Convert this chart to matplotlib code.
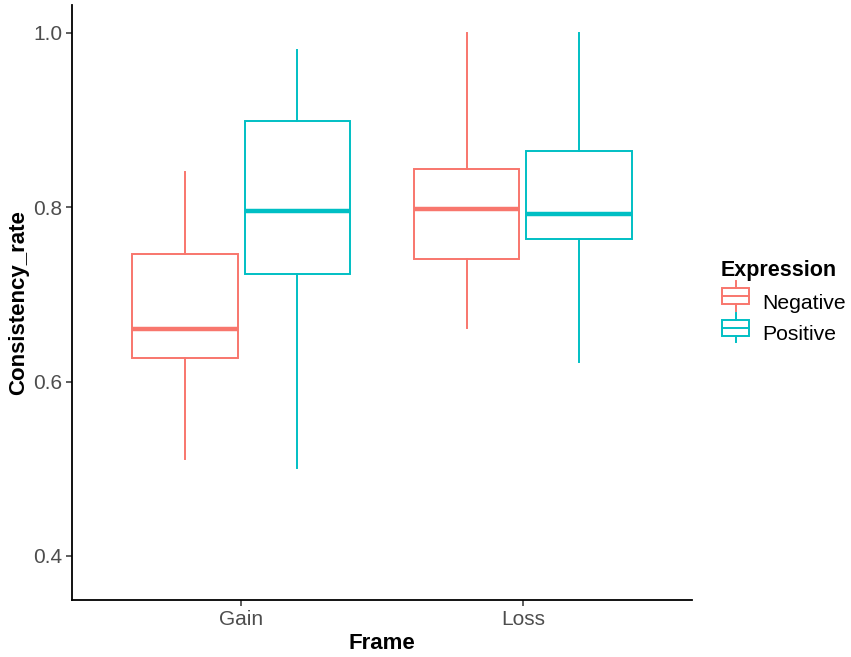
import matplotlib
matplotlib.use("Agg")
import matplotlib.pyplot as plt
from matplotlib.legend_handler import HandlerBase
from matplotlib.patches import Rectangle
from matplotlib.lines import Line2D

plt.rcParams['font.family'] = ['Liberation Sans', 'DejaVu Sans']

# data
frames = ["Gain", "Loss"]
groups = ["Negative", "Positive"]
colors = ["#F8766D", "#00BFC4"]
# per group: one value per frame
whislo = {"Negative": [0.511, 0.661], "Positive": [0.501, 0.622]}
q1 = {"Negative": [0.627, 0.741], "Positive": [0.723, 0.764]}
med = {"Negative": [0.660, 0.798], "Positive": [0.796, 0.792]}
q3 = {"Negative": [0.746, 0.844], "Positive": [0.899, 0.865]}
whishi = {"Negative": [0.840, 1.000], "Positive": [0.980, 1.000]}

fig = plt.figure(figsize=(8.51, 6.57), dpi=100)
ax = fig.add_axes([72 / 851, 57 / 657, 620 / 851, 595 / 657])

offsets = [-0.2, 0.2]
for g, col, off in zip(groups, colors, offsets):
    stats = []
    for i in range(len(frames)):
        stats.append(dict(whislo=whislo[g][i], q1=q1[g][i], med=med[g][i],
                          q3=q3[g][i], whishi=whishi[g][i], fliers=[]))
    ax.bxp(stats, positions=[i + 1 + off for i in range(len(frames))],
           widths=0.375, showcaps=False, showfliers=False, patch_artist=True,
           boxprops=dict(facecolor="white", edgecolor=col, linewidth=1.4),
           whiskerprops=dict(color=col, linewidth=1.4),
           medianprops=dict(color=col, linewidth=3.2, solid_capstyle="butt"))

ax.set_xlim(0.4, 2.6)
ax.set_ylim(0.3495, 1.032)
ax.set_xticks([1, 2])
ax.set_xticklabels(frames)
ax.set_yticks([0.4, 0.6, 0.8, 1.0])
ax.set_yticklabels(["0.4", "0.6", "0.8", "1.0"])
for s in ["top", "right"]:
    ax.spines[s].set_visible(False)
for s in ["left", "bottom"]:
    ax.spines[s].set_linewidth(1.3)
ax.tick_params(axis="both", labelsize=15, labelcolor="#4D4D4D", color="#333333",
               length=4, width=1.1, pad=3)
ax.set_xlabel("Frame", fontsize=16, fontweight="bold", labelpad=3)
ax.set_ylabel("Consistency_rate", fontsize=16, fontweight="bold", labelpad=3)


class BoxKey(HandlerBase):
    def create_artists(self, legend, orig, xd, yd, w, h, fontsize, trans):
        col = orig.get_color()
        bw = w * 0.9
        x0 = xd + (w - bw) / 2
        rect = Rectangle((x0, yd + h * 0.1), bw, h * 0.8, facecolor="white",
                         edgecolor=col, lw=1.4, transform=trans)
        mid = Line2D([x0, x0 + bw], [yd + h / 2] * 2, color=col, lw=1.4, transform=trans)
        wl = Line2D([xd + w / 2] * 2, [yd - h * 0.25, yd + h * 0.1], color=col, lw=1.4, transform=trans)
        wh = Line2D([xd + w / 2] * 2, [yd + h * 0.9, yd + h * 1.25], color=col, lw=1.4, transform=trans)
        return [rect, mid, wl, wh]


handles = [Line2D([], [], color=c) for c in colors]
leg = fig.legend(handles, groups, title="Expression", loc="center left",
                 bbox_to_anchor=(721 / 851, 1 - 302 / 657), frameon=False,
                 handler_map={Line2D: BoxKey()}, fontsize=15.2,
                 handlelength=1.4, handleheight=1.05, handletextpad=0.55,
                 labelspacing=0.5, borderaxespad=0, borderpad=0)
leg.get_title().set_fontweight("bold")
leg.get_title().set_fontsize(15.5)
leg._legend_box.align = "left"

fig.savefig("out.png", dpi=100, facecolor="white")
